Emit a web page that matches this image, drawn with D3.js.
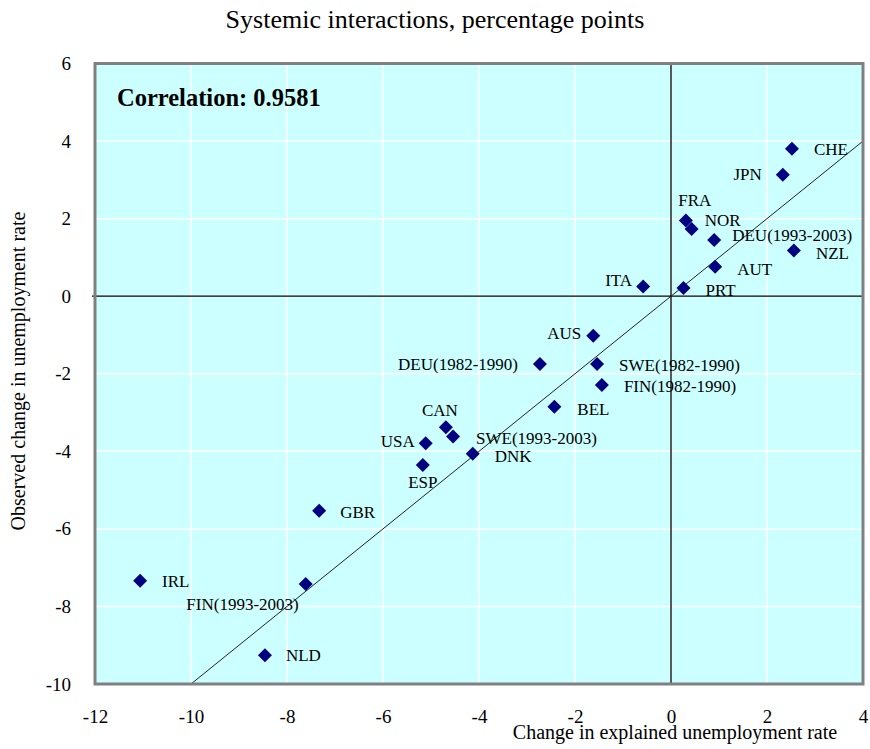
<!DOCTYPE html>
<html>
<head>
<meta charset="utf-8">
<script src="https://cdn.jsdelivr.net/npm/d3@7"></script>
<style>
  body { margin: 0; background: #fff; }
  text { font-family: "Liberation Serif", "Times New Roman", serif; }
</style>
</head>
<body>
<svg id="chart"></svg>
<script>
const width = 870;
const height = 749;

// data
const countries = ["CHE", "JPN", "FRA", "NOR", "DEU(1993-2003)", "NZL", "AUT", "ITA", "PRT",
  "AUS", "DEU(1982-1990)", "SWE(1982-1990)", "FIN(1982-1990)", "BEL", "CAN", "SWE(1993-2003)",
  "DNK", "USA", "ESP", "GBR", "IRL", "FIN(1993-2003)", "NLD"];
const explained = [2.52, 2.33, 0.31, 0.43, 0.90, 2.56, 0.92, -0.58, 0.26,
  -1.62, -2.73, -1.54, -1.44, -2.43, -4.69, -4.54,
  -4.13, -5.11, -5.17, -7.33, -11.06, -7.61, -8.46];
const observed = [3.80, 3.13, 1.95, 1.73, 1.45, 1.18, 0.76, 0.25, 0.21,
  -1.02, -1.75, -1.75, -2.29, -2.85, -3.38, -3.62,
  -4.06, -3.79, -4.35, -5.53, -7.34, -7.42, -9.26];
// label placement: [anchor, dx, dy]
const labelPos = [["start", 22, 0], ["end", -21, -1], ["middle", 9, -21], ["start", 13, -9],
  ["start", 18, -5], ["start", 22, 3], ["start", 22, 2], ["end", -11, -6], ["start", 22, 2],
  ["end", -12, -3], ["end", -22, 0], ["start", 22, 1], ["start", 22, 1], ["start", 23, 2],
  ["middle", -6, -17], ["start", 23, 1], ["start", 22, 2], ["end", -11, -2], ["middle", 0, 17],
  ["start", 21, 1], ["start", 22, 0], ["end", -7, 20], ["start", 21, 0]];
const xTicks = [-12, -10, -8, -6, -4, -2, 0, 2, 4];
const yTicks = [-10, -8, -6, -4, -2, 0, 2, 4, 6];
const fitLine = [[-10, -10], [4, 4]];
const correlation = "Correlation: 0.9581";

const serif = "Liberation Serif";
const svg = d3.select("#chart").attr("width", width).attr("height", height);

const x = d3.scaleLinear().domain([-12, 4]).range([95, 863]);
const y = d3.scaleLinear().domain([-10, 6]).range([684, 63.5]);

// plot background
svg.append("rect")
  .attr("x", x(-12)).attr("y", y(6))
  .attr("width", x(4) - x(-12)).attr("height", y(-10) - y(6))
  .attr("fill", "#ccffff");

// white grid
svg.append("g").selectAll("line").data(xTicks.slice(1, -1)).enter().append("line")
  .attr("x1", d => x(d)).attr("x2", d => x(d))
  .attr("y1", y(6)).attr("y2", y(-10))
  .attr("stroke", "#fff").attr("stroke-width", 1.5);
svg.append("g").selectAll("line").data(yTicks.slice(1, -1)).enter().append("line")
  .attr("y1", d => y(d)).attr("y2", d => y(d))
  .attr("x1", x(-12)).attr("x2", x(4))
  .attr("stroke", "#fff").attr("stroke-width", 1.5);

// zero axes
svg.append("line")
  .attr("x1", x(-12) - 3).attr("x2", x(4))
  .attr("y1", y(0)).attr("y2", y(0))
  .attr("stroke", "#000").attr("stroke-width", 1.3);
svg.append("line")
  .attr("x1", x(0)).attr("x2", x(0))
  .attr("y1", y(6)).attr("y2", y(-10))
  .attr("stroke", "#000").attr("stroke-width", 1.3);

// 45 degree line
svg.append("path")
  .attr("d", d3.line().x(d => x(d[0])).y(d => y(d[1]))(fitLine))
  .attr("stroke", "#222").attr("stroke-width", 1).attr("fill", "none");

// border
svg.append("rect")
  .attr("x", x(-12)).attr("y", y(6))
  .attr("width", x(4) - x(-12)).attr("height", y(-10) - y(6))
  .attr("fill", "none").attr("stroke", "#808080").attr("stroke-width", 3);

// axes (labels only)
const xAxis = svg.append("g")
  .attr("transform", `translate(0,${y(-10) + 22})`)
  .call(d3.axisBottom(x).tickValues(xTicks).tickSize(0).tickFormat(d => String(d)));
xAxis.attr("font-family", serif).attr("font-size", 19);
xAxis.select(".domain").remove();
xAxis.selectAll("text").attr("fill", "#000");

const yAxis = svg.append("g")
  .attr("transform", `translate(${x(-12) - 21},0)`)
  .call(d3.axisLeft(y).tickValues(yTicks).tickSize(0).tickFormat(d => String(d)));
yAxis.attr("font-family", serif).attr("font-size", 19);
yAxis.select(".domain").remove();
yAxis.selectAll("text").attr("fill", "#000");

// points
const pts = countries.map((c, i) => ({ name: c, x: explained[i], y: observed[i], pos: labelPos[i] }));
const diamond = d3.symbol().type(d3.symbolDiamond2).size(125);

svg.append("g").selectAll("path").data(pts).enter().append("path")
  .attr("d", diamond)
  .attr("transform", d => `translate(${x(d.x)},${y(d.y)})`)
  .attr("fill", "#000080");

svg.append("g").selectAll("text").data(pts).enter().append("text")
  .attr("x", d => x(d.x) + d.pos[1])
  .attr("y", d => y(d.y) + d.pos[2])
  .attr("dy", "0.35em")
  .attr("text-anchor", d => d.pos[0])
  .attr("font-size", 17)
  .text(d => d.name);

// texts
svg.append("text")
  .attr("x", 117).attr("y", 106)
  .attr("font-size", 24.5).attr("font-weight", "bold")
  .text(correlation);

svg.append("text")
  .attr("x", 435).attr("y", 28)
  .attr("text-anchor", "middle")
  .attr("font-size", 26)
  .text("Systemic interactions, percentage points");

svg.append("text")
  .attr("x", 675).attr("y", 739)
  .attr("text-anchor", "middle")
  .attr("font-size", 20)
  .text("Change in explained unemployment rate");

svg.append("text")
  .attr("transform", `translate(25,371) rotate(-90)`)
  .attr("text-anchor", "middle")
  .attr("font-size", 20)
  .text("Observed change in unemployment rate");
</script>
</body>
</html>
